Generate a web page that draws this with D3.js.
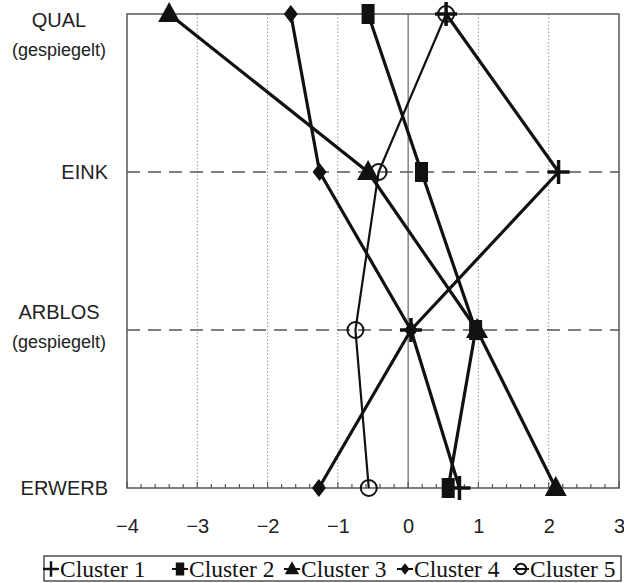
<!DOCTYPE html>
<html>
<head>
<meta charset="utf-8">
<script src="https://cdn.jsdelivr.net/npm/d3@7"></script>
<style>
  html, body { margin: 0; padding: 0; background: #fff; }
  svg { display: block; }
</style>
</head>
<body>
<svg id="chart" width="624" height="583"></svg>
<script>
// Profile variables (top to bottom) and their labels
const variables = ["QUAL", "EINK", "ARBLOS", "ERWERB"];
const varLabels = [["QUAL", "(gespiegelt)"], ["EINK"], ["ARBLOS", "(gespiegelt)"], ["ERWERB"]];

// Standardised cluster means per variable
const clusterNames = ["Cluster 1", "Cluster 2", "Cluster 3", "Cluster 4", "Cluster 5"];
const cluster1 = [0.54, 2.14, 0.04, 0.73];
const cluster2 = [-0.57, 0.19, 0.96, 0.57];
const cluster3 = [-3.40, -0.57, 0.98, 2.10];
const cluster4 = [-1.67, -1.26, 0.04, -1.27];
const cluster5 = [0.54, -0.42, -0.75, -0.56];
const seriesValues = [cluster1, cluster2, cluster3, cluster4, cluster5];
const markerTypes = ["plus", "rect", "triangle", "diamond", "circle"];

const xTicks = [-4, -3, -2, -1, 0, 1, 2, 3];
const xDomain = [-4, 3];

const svg = d3.select("#chart");
const plotLeft = 127, plotRight = 619, plotTop = 14, plotBottom = 488;

const x = d3.scaleLinear().domain(xDomain).range([plotLeft, plotRight]);
const y = d3.scalePoint().domain(variables).range([plotTop, plotBottom]);

// Vertical grid lines: dotted, with a solid line at zero
svg.append("g").selectAll("line")
  .data(xTicks.filter(t => t > xDomain[0] && t < xDomain[1]))
  .join("line")
  .attr("x1", d => x(d)).attr("x2", d => x(d))
  .attr("y1", plotTop).attr("y2", plotBottom)
  .attr("stroke", d => d === 0 ? "#666" : "#999")
  .attr("stroke-width", d => d === 0 ? 1.2 : 1)
  .attr("stroke-dasharray", d => d === 0 ? null : "1.5,2");

// Dashed reference lines for the inner variables
svg.append("g").selectAll("line")
  .data(variables.slice(1, -1))
  .join("line")
  .attr("x1", plotLeft).attr("x2", plotRight)
  .attr("y1", d => y(d)).attr("y2", d => y(d))
  .attr("stroke", "#555")
  .attr("stroke-width", 1.4)
  .attr("stroke-dasharray", "13,8");

// Plot frame
svg.append("rect")
  .attr("x", plotLeft).attr("y", plotTop)
  .attr("width", plotRight - plotLeft).attr("height", plotBottom - plotTop)
  .attr("fill", "none").attr("stroke", "#555").attr("stroke-width", 1.5);

// Bottom axis with minor ticks every 0.2
const axis = d3.axisBottom(x).tickValues(xTicks).tickSize(0).tickPadding(31)
  .tickFormat(d => d < 0 ? "\u2212" + Math.abs(d) : d);
const gx = svg.append("g").attr("transform", `translate(0,${plotBottom})`).call(axis);
gx.select(".domain").remove();
gx.selectAll("text")
  .attr("font-family", "Liberation Sans, Arial, sans-serif")
  .attr("font-size", 20).attr("fill", "#222");

const minor = d3.range(-4, 3.0001, 0.2).map(v => Math.round(v * 10) / 10);
svg.append("g").selectAll("line")
  .data(minor)
  .join("line")
  .attr("x1", d => x(d)).attr("x2", d => x(d))
  .attr("y1", plotBottom).attr("y2", d => Number.isInteger(d) ? plotBottom - 6 : plotBottom - 4)
  .attr("stroke", "#555").attr("stroke-width", 1.2);

// Variable labels on the left
const labelFont = "Liberation Sans, Arial, sans-serif";
variables.forEach((v, i) => {
  const lines = varLabels[i];
  const yy = y(v);
  if (lines.length === 1) {
    svg.append("text")
      .attr("x", 108).attr("y", yy + 7)
      .attr("text-anchor", "end")
      .attr("font-family", labelFont).attr("font-size", 20).attr("fill", "#222")
      .text(lines[0]);
  } else {
    const base = i === 0 ? yy + 13 : yy - 11;
    svg.append("text")
      .attr("x", 59).attr("y", base)
      .attr("text-anchor", "middle")
      .attr("font-family", labelFont).attr("font-size", 20).attr("fill", "#222")
      .text(lines[0]);
    svg.append("text")
      .attr("x", 59).attr("y", base + 29)
      .attr("text-anchor", "middle")
      .attr("font-family", labelFont).attr("font-size", 18).attr("fill", "#222")
      .text(lines[1]);
  }
});

// Marker drawing
function drawMarker(g, type, cx, cy, scale) {
  const s = scale || 1;
  if (type === "plus") {
    g.append("line").attr("x1", cx - 11 * s).attr("x2", cx + 11 * s).attr("y1", cy).attr("y2", cy)
      .attr("stroke", "#111").attr("stroke-width", 3.5 * Math.max(s, 0.7));
    g.append("line").attr("x1", cx).attr("x2", cx).attr("y1", cy - 12 * s).attr("y2", cy + 12 * s)
      .attr("stroke", "#111").attr("stroke-width", 3.5 * Math.max(s, 0.7));
  } else if (type === "rect") {
    g.append("rect").attr("x", cx - 6.5 * s).attr("y", cy - 10 * s)
      .attr("width", 13 * s).attr("height", 20 * s).attr("fill", "#111");
  } else if (type === "triangle") {
    g.append("path")
      .attr("d", `M${cx},${cy - 12 * s}L${cx + 11 * s},${cy + 8 * s}L${cx - 11 * s},${cy + 8 * s}Z`)
      .attr("fill", "#111");
  } else if (type === "diamond") {
    g.append("path")
      .attr("d", `M${cx},${cy - 9 * s}L${cx + 7 * s},${cy}L${cx},${cy + 9 * s}L${cx - 7 * s},${cy}Z`)
      .attr("fill", "#111");
  } else if (type === "circle") {
    g.append("circle").attr("cx", cx).attr("cy", cy).attr("r", 8 * s)
      .attr("fill", "none").attr("stroke", "#111").attr("stroke-width", 2);
  }
}

// Profile lines
const line = d3.line().x(d => x(d.v)).y(d => y(d.k));
const profiles = svg.append("g");
seriesValues.forEach((vals, si) => {
  const pts = vals.map((v, i) => ({ k: variables[i], v }));
  profiles.append("path")
    .attr("d", line(pts))
    .attr("fill", "none")
    .attr("stroke", "#111")
    .attr("stroke-width", si === 4 ? 2.2 : 3.2)
    .attr("stroke-linejoin", "round");
});

// Markers (last cluster first, so cluster 1 ends up on top)
const markers = svg.append("g");
for (let si = seriesValues.length - 1; si >= 0; si--) {
  seriesValues[si].forEach((v, i) => {
    drawMarker(markers, markerTypes[si], x(v), y(variables[i]), 1);
  });
}

// Legend
const legend = svg.append("g");
legend.append("rect")
  .attr("x", 44).attr("y", 556).attr("width", 577).attr("height", 25)
  .attr("fill", "#fff").attr("stroke", "#333").attr("stroke-width", 1.3);
const legendX = [51, 180, 292, 405, 521];
clusterNames.forEach((name, i) => {
  const cx = legendX[i], cy = 569;
  const g = legend.append("g");
  g.append("line").attr("x1", cx - 8).attr("x2", cx + 8).attr("y1", cy).attr("y2", cy)
    .attr("stroke", "#111").attr("stroke-width", 2);
  drawMarker(g, markerTypes[i], cx, cy, 0.65);
  g.append("text")
    .attr("x", cx + 9).attr("y", cy + 8)
    .attr("font-family", "Liberation Serif, Times New Roman, serif")
    .attr("font-size", 23.5).attr("fill", "#111")
    .text(name);
});
</script>
</body>
</html>
